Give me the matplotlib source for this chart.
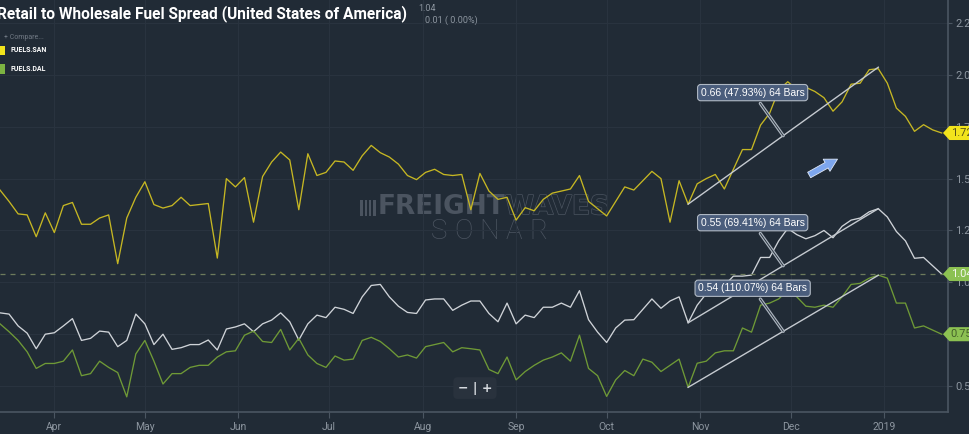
import numpy as np
import pandas as pd
import matplotlib
matplotlib.use('Agg')
import matplotlib.pyplot as plt
import matplotlib.dates as mdates
import matplotlib.patheffects as pe
from matplotlib.patches import Polygon, Rectangle

# sampled every 3 days from the chart
dates = pd.date_range('2018-03-14', periods=105, freq='3D')

fuels_san = [
    1.445, 1.39, 1.33, 1.325, 1.22, 1.335, 1.24, 1.37, 1.385, 1.28,
    1.28, 1.31, 1.325, 1.09, 1.31, 1.41, 1.485, 1.375, 1.358, 1.37,
    1.41, 1.37, 1.375, 1.38, 1.117, 1.50, 1.46, 1.505, 1.29, 1.51,
    1.58, 1.628, 1.59, 1.35, 1.62, 1.515, 1.53, 1.585, 1.58, 1.54,
    1.61, 1.66, 1.625, 1.604, 1.57, 1.515, 1.495, 1.53, 1.545, 1.52,
    1.515, 1.52, 1.35, 1.525, 1.44, 1.40, 1.41, 1.30, 1.36, 1.345,
    1.40, 1.43, 1.44, 1.45, 1.515, 1.39, 1.355, 1.32, 1.39, 1.46,
    1.445, 1.49, 1.535, 1.50, 1.29, 1.49, 1.377, 1.475, 1.50, 1.52,
    1.45, 1.545, 1.64, 1.64, 1.758, 1.815, 1.927, 1.967, 1.93, 1.94,
    1.92, 1.89, 1.825, 1.87, 1.955, 1.96, 2.025, 2.03, 1.96, 1.84,
    1.80, 1.728, 1.76, 1.735, 1.72,
]

us_spread = [
    0.853, 0.847, 0.79, 0.755, 0.68, 0.75, 0.757, 0.79, 0.825, 0.72,
    0.73, 0.765, 0.76, 0.69, 0.72, 0.847, 0.80, 0.70, 0.75, 0.677,
    0.685, 0.70, 0.70, 0.722, 0.674, 0.775, 0.785, 0.80, 0.762, 0.80,
    0.818, 0.853, 0.81, 0.722, 0.80, 0.842, 0.83, 0.88, 0.87, 0.85,
    0.93, 0.985, 0.99, 0.93, 0.885, 0.855, 0.85, 0.915, 0.92, 0.92,
    0.865, 0.89, 0.91, 0.91, 0.85, 0.81, 0.90, 0.80, 0.842, 0.83,
    0.88, 0.88, 0.90, 0.88, 0.96, 0.82, 0.76, 0.71, 0.78, 0.818,
    0.82, 0.87, 0.92, 0.875, 0.91, 0.93, 0.805, 0.89, 0.945, 0.95,
    0.985, 1.03, 1.03, 1.035, 1.12, 1.12, 1.20, 1.26, 1.23, 1.21,
    1.225, 1.25, 1.215, 1.27, 1.30, 1.31, 1.34, 1.355, 1.315, 1.245,
    1.20, 1.116, 1.12, 1.08, 1.04,
]

fuels_dal = [
    0.80, 0.762, 0.72, 0.665, 0.585, 0.609, 0.609, 0.62, 0.674, 0.55,
    0.56, 0.62, 0.59, 0.565, 0.448, 0.655, 0.72, 0.62, 0.51, 0.56,
    0.56, 0.59, 0.60, 0.60, 0.64, 0.665, 0.67, 0.745, 0.765, 0.715,
    0.71, 0.773, 0.674, 0.73, 0.65, 0.609, 0.59, 0.645, 0.625, 0.63,
    0.72, 0.735, 0.715, 0.68, 0.64, 0.65, 0.635, 0.69, 0.70, 0.71,
    0.665, 0.685, 0.68, 0.674, 0.58, 0.56, 0.64, 0.53, 0.57, 0.60,
    0.625, 0.64, 0.66, 0.62, 0.745, 0.585, 0.55, 0.45, 0.53, 0.575,
    0.55, 0.63, 0.615, 0.57, 0.60, 0.63, 0.494, 0.61, 0.62, 0.66,
    0.67, 0.67, 0.78, 0.76, 0.89, 0.90, 0.92, 0.962, 0.93, 0.885,
    0.88, 0.89, 0.88, 0.93, 0.99, 0.995, 1.02, 1.035, 1.02, 0.90,
    0.90, 0.78, 0.79, 0.77, 0.75,
]

# trend measurements (64 bars)
trend_start = 76
trend_end = 97
trend_change = [0.66, 0.55, 0.54]
trend_labels = ['0.66 (47.93%) 64 Bars', '0.55 (69.41%) 64 Bars', '0.54 (110.07%) 64 Bars']

last_value = 1.04
yticks = [0.50, 0.75, 1.00, 1.25, 1.50, 1.75, 2.00, 2.25]

bg = '#212b36'
grid_c = '#29333f'
axis_c = '#4b5662'
tick_txt = '#8d96a0'
yellow = '#c6b723'
white = '#cfd3d8'
green = '#6f9a36'

fig = plt.figure(figsize=(9.7, 4.34), dpi=100, facecolor=bg)
ax = fig.add_axes([0, 22 / 434, 948 / 970, 412 / 434])
ax.set_facecolor(bg)

x0 = mdates.date2num(pd.Timestamp('2018-03-14'))
ax.set_xlim(x0, x0 + 314.1)
ax.set_ylim(0.375, 2.361)

# watermark
wm = '#4b5460'
ax.text(0.5327, 0.497, 'FREIGHT', transform=ax.transAxes, color=wm, fontsize=19,
        fontweight='bold', ha='right', va='center', family='DejaVu Sans', zorder=0.5)
ax.text(0.5327, 0.497, 'WAVES', transform=ax.transAxes, color=bg, fontsize=19,
        fontweight='bold', ha='left', va='center', family='DejaVu Sans', zorder=0.5,
        path_effects=[pe.Stroke(linewidth=1.0, foreground=wm), pe.Normal()])
for k, ch in enumerate('SONAR'):
    ax.text(0.463 + k * 0.0263, 0.438, ch, transform=ax.transAxes, color=wm, fontsize=20,
            fontweight='light', ha='center', va='center', family='Roboto', zorder=0.5)
for k in range(4):
    ax.add_patch(Rectangle((0.380 + k * 0.0045, 0.476), 0.0028, 0.039, transform=ax.transAxes,
                           fc=wm, ec='none', zorder=0.5))

ax.plot(dates, fuels_san, color=yellow, lw=0.95)
ax.plot(dates, us_spread, color=white, lw=0.95)
ax.plot(dates, fuels_dal, color=green, lw=0.95)

ax.axhline(last_value, color='#6d7b5c', lw=0.9, ls=(0, (4, 4)))

# trend lines with measurement boxes
for series, chg, lab in zip([fuels_san, us_spread, fuels_dal], trend_change, trend_labels):
    d0, d1 = dates[trend_start], dates[trend_end]
    v0 = series[trend_start]
    ax.plot([d0, d1], [v0, v0 + chg], color='#c5cad0', lw=1.0)
    mid_d = d0 + (d1 - d0) / 2
    ann = ax.annotate(lab, xy=(mid_d, v0 + chg / 2), xytext=(-22, 31),
                      textcoords='offset points', ha='center', va='center',
                      fontsize=7.5, color='white', family='Liberation Sans',
                      bbox=dict(boxstyle='round,pad=0.3', fc='#4a5d7c', ec='#b0b9c4', lw=0.8),
                      arrowprops=dict(arrowstyle='-', color=bg, lw=0.6, shrinkB=0))
    ann.arrow_patch.set_path_effects([pe.Stroke(linewidth=2.4, foreground='#aab3bd'), pe.Normal()])

# axes styling
for s in ['top', 'left']:
    ax.spines[s].set_visible(False)
ax.spines['right'].set_color(axis_c)
ax.spines['bottom'].set_color(axis_c)
ax.spines['right'].set_linewidth(1.2)
ax.spines['bottom'].set_linewidth(1.2)

ax.yaxis.tick_right()
ax.set_yticks(yticks)
ax.set_yticklabels([f'{v:.2f}' for v in yticks])
ax.tick_params(axis='y', colors=axis_c, labelcolor=tick_txt, labelsize=8, length=3, pad=2)

ax.xaxis.set_major_locator(mdates.MonthLocator())

def month_fmt(x, pos):
    d = mdates.num2date(x)
    return str(d.year) if d.month == 1 else d.strftime('%b')

ax.xaxis.set_major_formatter(plt.FuncFormatter(month_fmt))
ax.tick_params(axis='x', colors=axis_c, labelcolor=tick_txt, labelsize=7.5, length=4, pad=3)
for t in ax.get_xticklabels() + ax.get_yticklabels():
    t.set_family('Roboto')

ax.grid(True, color=grid_c, lw=0.8)
ax.set_axisbelow(True)

# price tags at the right edge
ytr = ax.get_yaxis_transform()
h = 0.034
for v, fc, tc in [(fuels_san[-1], '#f2e41c', '#5b5418'), (last_value, '#8cc152', '#f4f7f0'),
                  (fuels_dal[-1], '#8cc152', '#44602a')]:
    poly = Polygon([(0.9947, v), (1.0015, v + h), (1.04, v + h), (1.04, v - h), (1.0015, v - h)],
                   closed=True, transform=ytr, fc=fc, ec='none', clip_on=False, zorder=5)
    ax.add_patch(poly)
    ax.text(1.003, v, f'{v:.2f}', transform=ytr, color=tc, fontsize=8, va='center',
            ha='left', family='Roboto', clip_on=False, zorder=6)

# title and legend
fig.text(-0.003, 0.968, 'Retail to Wholesale Fuel Spread (United States of America)',
         color='white', fontsize=11.2, fontweight='bold', family='Roboto', va='center', ha='left')
fig.text(0.431, 0.981, '1.04', color=tick_txt, fontsize=6.5, va='center', family='Roboto')
fig.text(0.438, 0.953, '0.01 ( 0.00%)', color=tick_txt, fontsize=6.5, va='center', family='Roboto')
fig.text(0.004, 0.913, '+ Compare...', color='#717a85', fontsize=5, va='center', family='Roboto')
for yy, col, name in [(0.884, '#f2e41c', 'FUELS.SAN'), (0.841, '#7cb342', 'FUELS.DAL')]:
    fig.patches.append(Rectangle((-0.003, yy - 0.011), 0.008, 0.022, transform=fig.transFigure,
                                 fc=col, ec='none', figure=fig))
    fig.text(0.011, yy, name, color='white', fontsize=5, fontweight='bold', va='center', family='Roboto')

# zoom buttons
ax.text(0.501, 0.058, '\u2212 | +', transform=ax.transAxes, color='#d5d9de', fontsize=9,
        fontweight='bold', ha='center', va='center', family='DejaVu Sans',
        bbox=dict(boxstyle='round,pad=0.35', fc='#29323d', ec='none'))

# blue arrow
ax.annotate('', xy=(0.886, 0.617), xytext=(0.851, 0.572), xycoords='axes fraction',
            arrowprops=dict(arrowstyle='simple,head_length=0.9,head_width=1.0,tail_width=0.45',
                            fc='#7da6ee', ec='#dfe8f7', lw=0.6))

fig.savefig('out.png', dpi=100, facecolor=bg)
